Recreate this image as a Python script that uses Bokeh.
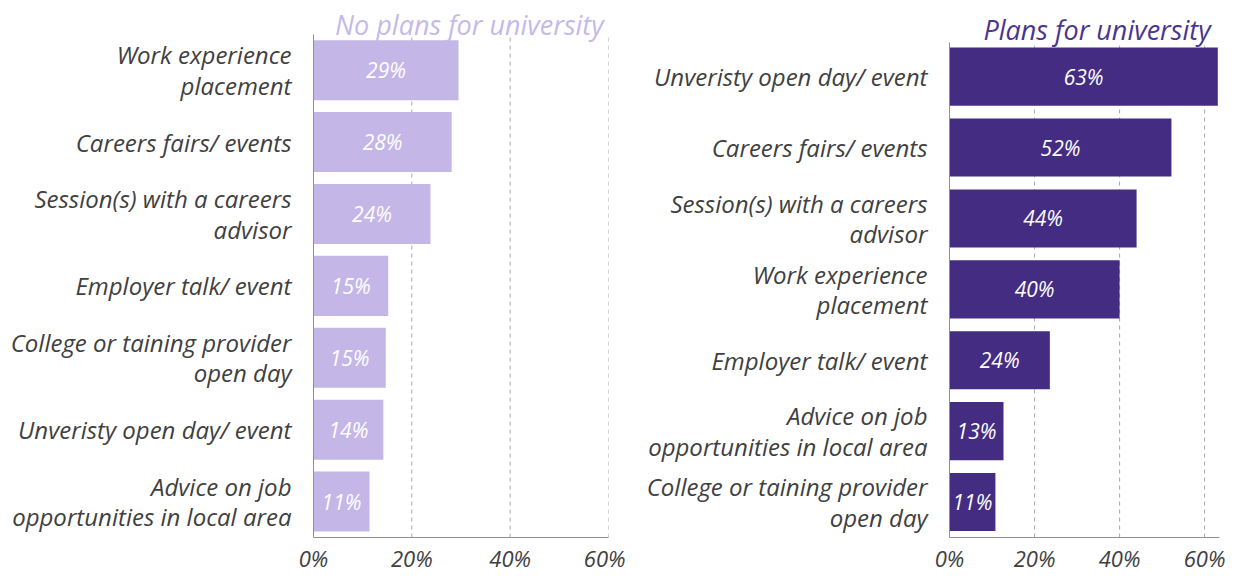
from bokeh.plotting import figure
from bokeh.models import ColumnDataSource, Label, FixedTicker, Range1d
from bokeh.layouts import row
from bokeh.embed import file_html
from bokeh.resources import INLINE
from bokeh.core.properties import value

left_categories = ["Work experience\nplacement", "Careers fairs/ events",
                   "Session(s) with a careers\nadvisor", "Employer talk/ event",
                   "College or taining provider\nopen day", "Unveristy open day/ event",
                   "Advice on job\nopportunities in local area"]
left_values = [29.5, 28.1, 23.8, 15.2, 14.7, 14.2, 11.4]
left_labels = ["29%", "28%", "24%", "15%", "15%", "14%", "11%"]

right_categories = ["Unveristy open day/ event", "Careers fairs/ events",
                    "Session(s) with a careers\nadvisor", "Work experience\nplacement",
                    "Employer talk/ event", "Advice on job\nopportunities in local area",
                    "College or taining provider\nopen day"]
right_values = [63.1, 52.2, 44.0, 40.0, 23.6, 12.7, 10.8]
right_labels = ["63%", "52%", "44%", "40%", "24%", "13%", "11%"]

ticks = [0, 20, 40, 60]
tick_labels = ["0%", "20%", "40%", "60%"]

FONT = "Open Sans"
TXT = "#404040"


def make_panel(cats, vals, labels, color, title, title_color, x_end, y_end,
               width, b_left, b_right, bar_h, grid_top,
               title_x, title_y, title_align):
    n = len(cats)
    pos = [n - i for i in range(n)]  # top category first
    p = figure(width=width, height=576,
               y_range=Range1d(0.5, y_end), x_range=Range1d(0, x_end),
               min_border_left=b_left, min_border_right=b_right,
               min_border_top=0, min_border_bottom=39,
               output_backend="svg", toolbar_location=None)
    src = ColumnDataSource(dict(pos=pos, val=vals, mid=[v / 2 for v in vals], lab=labels))

    # dashed vertical grid lines
    gsrc = ColumnDataSource(dict(x=ticks[1:], y0=[0.5] * 3, y1=[grid_top] * 3))
    p.segment(x0="x", x1="x", y0="y0", y1="y1", source=gsrc,
              line_color="#a8a8a8", line_dash="4 4", line_width=1)

    p.hbar(y="pos", left=0, right="val", height=bar_h, source=src,
           fill_color=color, line_color=None)
    p.text(x="mid", y="pos", text="lab", source=src, text_align="center",
           text_baseline="middle", text_color="white", text_font=value(FONT),
           text_font_style="italic", text_font_size="21px")
    p.outline_line_color = None
    p.grid.visible = False

    p.xaxis.ticker = FixedTicker(ticks=ticks)
    p.xaxis.major_label_overrides = {t: l for t, l in zip(ticks, tick_labels)}
    p.xaxis.major_tick_line_color = None
    p.xaxis.major_tick_out = 0
    p.xaxis.major_tick_in = 0
    p.xaxis.minor_tick_line_color = None
    p.xaxis.axis_line_color = "#909090"
    p.xaxis.major_label_standoff = 5
    p.xaxis.major_label_text_font = FONT
    p.xaxis.major_label_text_font_style = "italic"
    p.xaxis.major_label_text_font_size = "22px"
    p.xaxis.major_label_text_color = TXT

    p.yaxis.ticker = FixedTicker(ticks=pos)
    p.yaxis.major_label_overrides = {k: c for k, c in zip(pos, cats)}
    p.yaxis.bounds = (0.5, grid_top)
    p.yaxis.major_tick_line_color = None
    p.yaxis.minor_tick_line_color = None
    p.yaxis.axis_line_color = "#909090"
    p.yaxis.major_label_standoff = 16
    p.yaxis.major_label_text_font = FONT
    p.yaxis.major_label_text_font_style = "italic"
    p.yaxis.major_label_text_font_size = "24px"
    p.yaxis.major_label_text_color = TXT
    p.yaxis.major_label_text_line_height = 0.92

    p.add_layout(Label(x=title_x, y=title_y, text=title, text_align=title_align,
                       text_baseline="alphabetic", text_font=FONT,
                       text_font_style="italic", text_font_size="27px",
                       text_color=title_color))
    return p


left = make_panel(left_categories, left_values, left_labels, "#c4b7e7",
                  "No plans for university", "#c5b9ea", 60, 7.969,
                  625, 313, 17, 0.835, 7.496, 31.7, 7.635, "center")
right = make_panel(right_categories, right_values, right_labels, "#452c83",
                   "Plans for university", "#4a3590", 63.5, 8.074,
                   605, 324, 11, 0.82, 7.48, 61.4, 7.665, "right")

layout = row(left, right)
open("out.html", "w").write(file_html(layout, INLINE))
